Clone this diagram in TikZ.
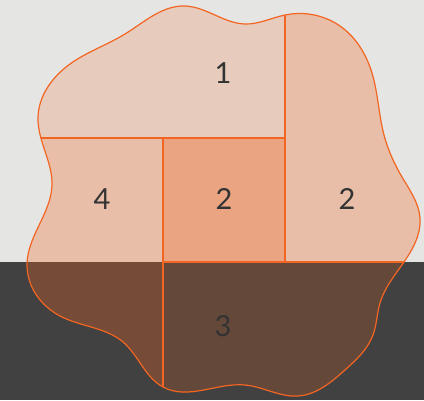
\documentclass[tikz,border=0pt]{standalone}
\usepackage{fontspec}
\setmainfont{Lato}
\usepackage{tikz}
\usetikzlibrary{positioning, hobby}
\definecolor{blobline}{HTML}{F26522}
\definecolor{paperbg}{HTML}{E5E5E3}
\definecolor{floorbg}{HTML}{414141}
\definecolor{digitgray}{HTML}{333333}

\tikzset{
  region/.style={fill=blobline, fill opacity=#1},
  divider/.style={draw=blobline, line width=1.2pt},
  countlabel/.style={text=digitgray, font=\fontsize{29}{29}\selectfont, inner sep=0pt}
}

\begin{document}
\begin{tikzpicture}[x=1pt, y=-1pt, use Hobby shortcut]
  % background: wall and floor
  \fill[paperbg] (0,0) rectangle (424,262);
  \fill[floorbg] (0,262) rectangle (424,400);
  \useasboundingbox (0,0) rectangle (424,400);
  \def\blobpath{([closed]285,15) .. (340,26) .. (372,73) .. (384,135)
    .. (402,177) .. (420,218) .. (404,262) .. (380,303) .. (373,335)
    .. (345,370) .. (298,396) .. (245,385) .. (163,387) .. (123,342)
    .. (60,316) .. (27,265) .. (52,185) .. (38,118) .. (70,64)
    .. (125,34) .. (185,6) .. (245,24)}
  % regions, clipped to the blob
  \begin{scope}
    \clip \blobpath;
    \fill[region=0.2] (0,0) rectangle (285,138);
    \fill[region=0.3] (285,0) rectangle (424,262);
    \fill[region=0.3] (0,138) rectangle (163,400);
    \fill[region=0.5] (163,138) rectangle (285,262);
    \fill[region=0.2] (163,262) rectangle (424,400);
    \draw[divider] (0,138) -- (285,138);
    \draw[divider] (285,0) -- (285,262);
    \draw[divider] (163,138) -- (163,400);
    \draw[divider] (163,262) -- (424,262);
  \end{scope}
  \draw[blobline, line width=1.2pt] \blobpath;
  % counts
  \node[countlabel] (top) at (223,73) {1};
  \node[countlabel] (left) at (102,199) {4};
  \node[countlabel] (mid) at (224,199) {2};
  \node[countlabel] (right) at (347,199) {2};
  \node[countlabel] (bottom) at (223,326) {3};
\end{tikzpicture}
\end{document}
